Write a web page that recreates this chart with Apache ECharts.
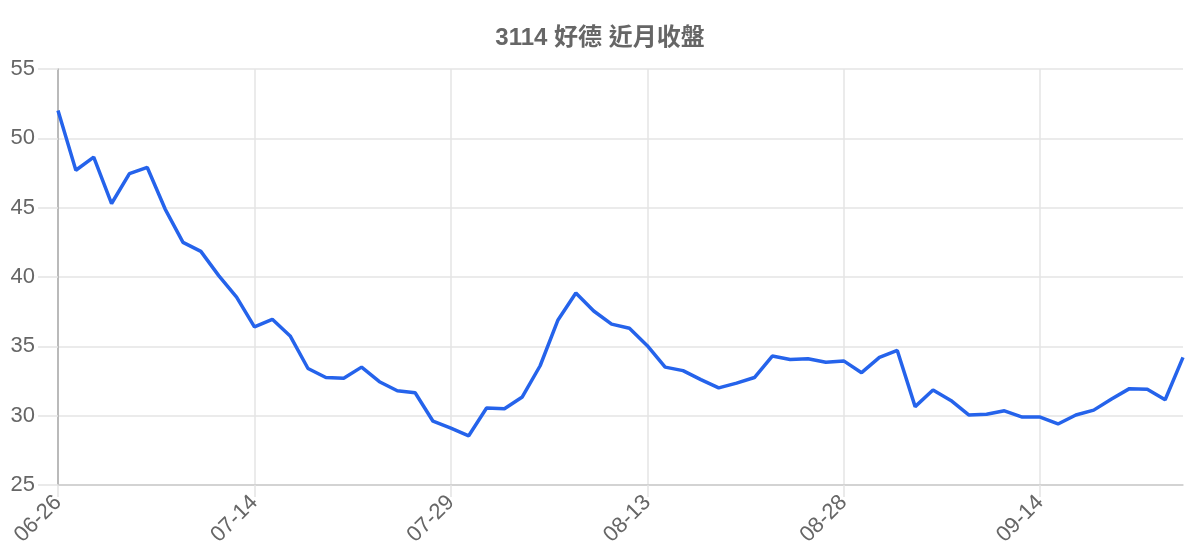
<!DOCTYPE html>
<html lang="zh-Hant">
<head>
    <meta charset="UTF-8">
    <title>3114 好德 近月收盤</title>
    <script src="https://cdn.jsdelivr.net/npm/echarts@6.0.0/dist/echarts.min.js"></script>
    <style>
        html, body { margin: 0; padding: 0; background: #fff; }
        #chart { width: 1200px; height: 560px; }
    </style>
</head>
<body>
    <div id="chart"></div>
    <script>
        var titleText = '3114 好德 近月收盤';

        var dates = [
            '06-26', '06-27', '06-30', '07-01', '07-02', '07-03', '07-04', '07-07', '07-08', '07-09', '07-10',
            '07-14', '07-15', '07-16', '07-17', '07-18', '07-21', '07-22', '07-23', '07-24', '07-25', '07-28',
            '07-29', '07-30', '07-31', '08-01', '08-04', '08-05', '08-06', '08-07', '08-08', '08-11', '08-12',
            '08-13', '08-14', '08-15', '08-18', '08-19', '08-20', '08-21', '08-22', '08-25', '08-26', '08-27',
            '08-28', '08-29', '09-01', '09-02', '09-03', '09-04', '09-05', '09-08', '09-09', '09-10', '09-11',
            '09-14', '09-15', '09-16', '09-17', '09-18', '09-19', '09-22', '09-23', '09-24'
        ];

        var closes = [
            52.0, 47.7, 48.65, 45.3, 47.45, 47.9, 44.9, 42.5, 41.85, 40.1, 38.55,
            36.4, 36.95, 35.75, 33.4, 32.75, 32.7, 33.5, 32.45, 31.8, 31.65, 29.6,
            29.1, 28.55, 30.55, 30.5, 31.35, 33.6, 36.9, 38.85, 37.55, 36.6, 36.3,
            35.05, 33.5, 33.25, 32.6, 32.0, 32.35, 32.75, 34.3, 34.05, 34.1, 33.85,
            33.95, 33.1, 34.2, 34.7, 30.65, 31.85, 31.1, 30.05, 30.1, 30.35, 29.9,
            29.9, 29.4, 30.05, 30.4, 31.2, 31.95, 31.9, 31.15, 34.2
        ];

        var fontFamily = '"Liberation Sans", Arial, "Noto Sans CJK TC", sans-serif';
        var gridColor = '#e4e4e4';

        var chart = echarts.init(document.getElementById('chart'));

        chart.setOption({
            animation: false,
            title: {
                text: titleText,
                left: 'center',
                top: 21,
                textStyle: {
                    fontFamily: fontFamily,
                    fontSize: 24,
                    fontWeight: 'bold',
                    color: '#666'
                }
            },
            grid: {
                left: 58,
                right: 17,
                top: 69,
                bottom: 75,
                containLabel: false
            },
            xAxis: {
                type: 'category',
                data: dates,
                boundaryGap: false,
                axisLine: { show: true, lineStyle: { color: '#cccccc', width: 1.5 } },
                axisTick: { show: true, interval: 10, length: 12, lineStyle: { color: gridColor, width: 1.5 } },
                splitLine: { show: true, interval: 10, lineStyle: { color: gridColor, width: 1.5 } },
                axisLabel: {
                    interval: 10,
                    rotate: 45,
                    margin: 14,
                    color: '#666',
                    fontSize: 22,
                    fontFamily: fontFamily
                }
            },
            yAxis: {
                type: 'value',
                min: 25,
                max: 55,
                interval: 5,
                axisLine: { show: true, lineStyle: { color: '#aaaaaa', width: 1.5 } },
                axisTick: { show: true, length: 20, lineStyle: { color: gridColor, width: 1.5 } },
                splitLine: { show: true, lineStyle: { color: gridColor, width: 1.5 } },
                axisLabel: {
                    margin: 23,
                    color: '#666',
                    fontSize: 22,
                    fontFamily: fontFamily
                }
            },
            series: [{
                type: 'line',
                data: closes,
                showSymbol: false,
                smooth: false,
                lineStyle: { color: '#2563eb', width: 3.5 },
                itemStyle: { color: '#2563eb' }
            }]
        });
    </script>
</body>
</html>
